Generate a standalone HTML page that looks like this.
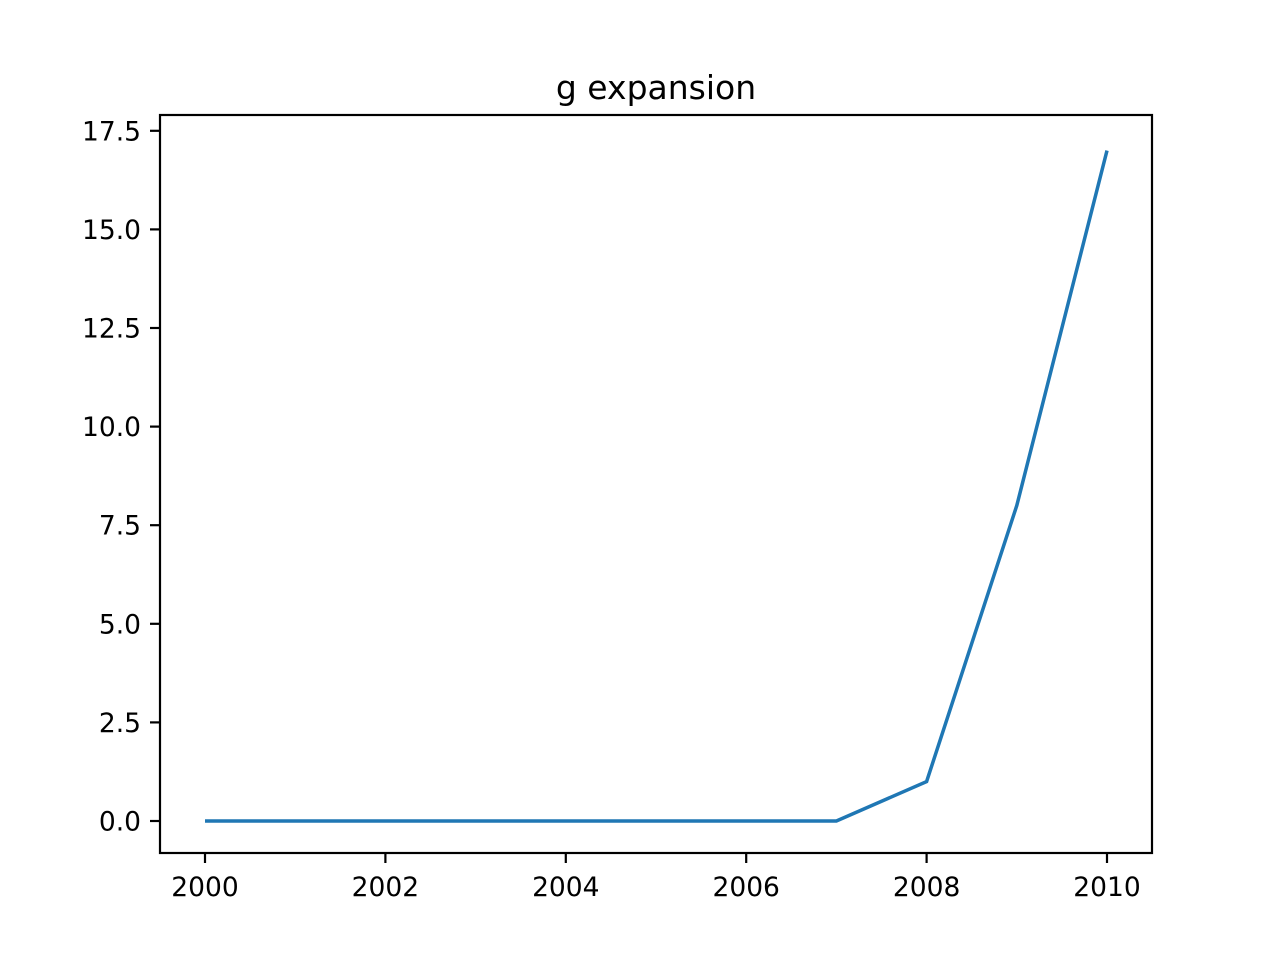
<!DOCTYPE html>
<html><head><meta charset="utf-8"><style>
html,body{margin:0;padding:0;background:#fff;}
svg{display:block;font-family:"DejaVu Sans","Liberation Sans",sans-serif;}
</style></head><body>
<svg id="chart" width="1280" height="960">
<rect x="0" y="0" width="1280" height="960" fill="#fff"/>
<text x="656" y="99" font-size="33" text-anchor="middle">g expansion</text>
<g id="marks"></g>
<g id="axes"></g>
<rect x="160" y="115" width="992" height="738" fill="none" stroke="#000" stroke-width="2.2"/>
</svg>
<script>
const years = [2000,2001,2002,2003,2004,2005,2006,2007,2008,2009,2010];
const values = [0,0,0,0,0,0,0,0,1,8,17];
const xTicks = [2000,2002,2004,2006,2008,2010];
const yTicks = [0,2.5,5,7.5,10,12.5,15,17.5];
const yTickLabels = ["0.0","2.5","5.0","7.5","10.0","12.5","15.0","17.5"];

const NS="http://www.w3.org/2000/svg";
function xs(v){return 205+(v-2000)*90.2;}
function ys(v){return 821-v*39.44;}
const marks=document.getElementById('marks'), axes=document.getElementById('axes');
const line=document.createElementNS(NS,'polyline');
line.setAttribute('points',years.map((y,i)=>xs(y)+','+ys(values[i])).join(' '));
line.setAttribute('fill','none');line.setAttribute('stroke','#1f77b4');line.setAttribute('stroke-width','3.5');


marks.appendChild(line);
xTicks.forEach(t=>{
  const l=document.createElementNS(NS,'line');
  l.setAttribute('x1',xs(t));l.setAttribute('x2',xs(t));l.setAttribute('y1',853);l.setAttribute('y2',863);
  l.setAttribute('stroke','#000');l.setAttribute('stroke-width','2.2');
  
  
  axes.appendChild(l);
  const tx=document.createElementNS(NS,'text');
  tx.setAttribute('x',xs(t));tx.setAttribute('y',896);tx.setAttribute('font-size','26.5');tx.setAttribute('text-anchor','middle');
  tx.textContent=t;
  
  
  axes.appendChild(tx);
});
yTicks.forEach((t,i)=>{
  const l=document.createElementNS(NS,'line');
  l.setAttribute('x1',150);l.setAttribute('x2',160);l.setAttribute('y1',ys(t));l.setAttribute('y2',ys(t));
  l.setAttribute('stroke','#000');l.setAttribute('stroke-width','2.2');
  
  
  axes.appendChild(l);
  const tx=document.createElementNS(NS,'text');
  tx.setAttribute('x',141);tx.setAttribute('y',ys(t)+9.5);tx.setAttribute('font-size','26.5');tx.setAttribute('text-anchor','end');
  tx.textContent=yTickLabels[i];
  
  
  axes.appendChild(tx);
});
</script>
</body></html>
